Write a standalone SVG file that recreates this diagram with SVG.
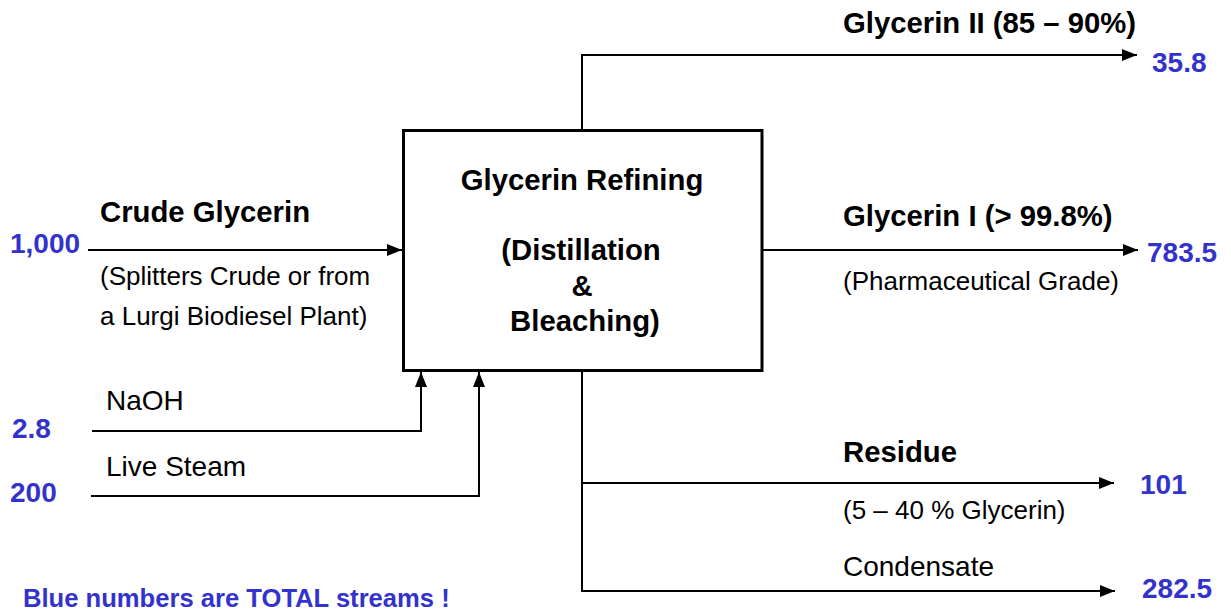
<svg xmlns="http://www.w3.org/2000/svg" width="1231" height="612" viewBox="0 0 1231 612">
  <style>
    text { font-family: "Liberation Sans", Arial, sans-serif; fill: #000; }
    .b { font-weight: bold; font-size: 29.3px; }
    .r { font-size: 28px; }
    .s { font-size: 26px; }
    .n { font-weight: bold; font-size: 28px; fill: #3333CC; }
    .f { font-weight: bold; font-size: 25.6px; fill: #3333CC; }
    .c { text-anchor: middle; }
    .ln { fill: none; stroke: #000; stroke-width: 2; }
  </style>
  <defs>
    <marker id="ah" markerUnits="userSpaceOnUse" markerWidth="16" markerHeight="12" refX="15" refY="6" orient="auto">
      <path d="M0,0 L15,6 L0,12 Z" fill="#000"/>
    </marker>
  </defs>
  <rect width="1231" height="612" fill="#fff"/>

  <g id="connectors">
    <path class="ln" d="M88,250 H402" marker-end="url(#ah)"/>
    <path class="ln" d="M92,431 H421 V372" marker-end="url(#ah)"/>
    <path class="ln" d="M91,496 H479 V372" marker-end="url(#ah)"/>
    <path class="ln" d="M582,129 V55 H1137" marker-end="url(#ah)"/>
    <path class="ln" d="M763,250 H1138" marker-end="url(#ah)"/>
    <path class="ln" d="M582,372 V483 H1114" marker-end="url(#ah)"/>
    <path class="ln" d="M582,483 V591 H1115" marker-end="url(#ah)"/>
  </g>

  <g id="refining">
    <rect x="403.5" y="130.5" width="358.5" height="240" fill="#fff" stroke="#000" stroke-width="3"/>
    <text class="b c" x="582" y="190">Glycerin Refining</text>
    <text class="b c" x="581" y="260">(Distillation</text>
    <text class="b c" x="582" y="296">&amp;</text>
    <text class="b c" x="585" y="331">Bleaching)</text>
  </g>

  <g id="crude">
    <text class="n" x="10" y="253">1,000</text>
    <text class="b" x="100" y="222">Crude Glycerin</text>
    <text class="s" x="100" y="285">(Splitters Crude or from</text>
    <text class="s" x="100" y="325">a Lurgi Biodiesel Plant)</text>
  </g>

  <g id="naoh">
    <text class="n" x="12" y="438">2.8</text>
    <text class="r" x="106" y="410">NaOH</text>
  </g>

  <g id="steam">
    <text class="n" x="10" y="502">200</text>
    <text class="r" x="106" y="476">Live Steam</text>
  </g>

  <g id="glycerin2">
    <text class="b" x="843" y="33">Glycerin II (85 – 90%)</text>
    <text class="n" x="1152" y="72">35.8</text>
  </g>

  <g id="glycerin1">
    <text class="b" x="843" y="226">Glycerin I (&gt; 99.8%)</text>
    <text class="n" x="1147" y="262">783.5</text>
    <text class="s" x="843" y="290">(Pharmaceutical Grade)</text>
  </g>

  <g id="residue">
    <text class="b" x="843" y="462">Residue</text>
    <text class="n" x="1140" y="494">101</text>
    <text class="s" x="843" y="519">(5 – 40 % Glycerin)</text>
  </g>

  <g id="condensate">
    <text class="r" x="843" y="576">Condensate</text>
    <text class="n" x="1142" y="598">282.5</text>
  </g>

  <g id="note">
    <text class="f" x="23" y="607">Blue numbers are TOTAL streams !</text>
  </g>
</svg>
